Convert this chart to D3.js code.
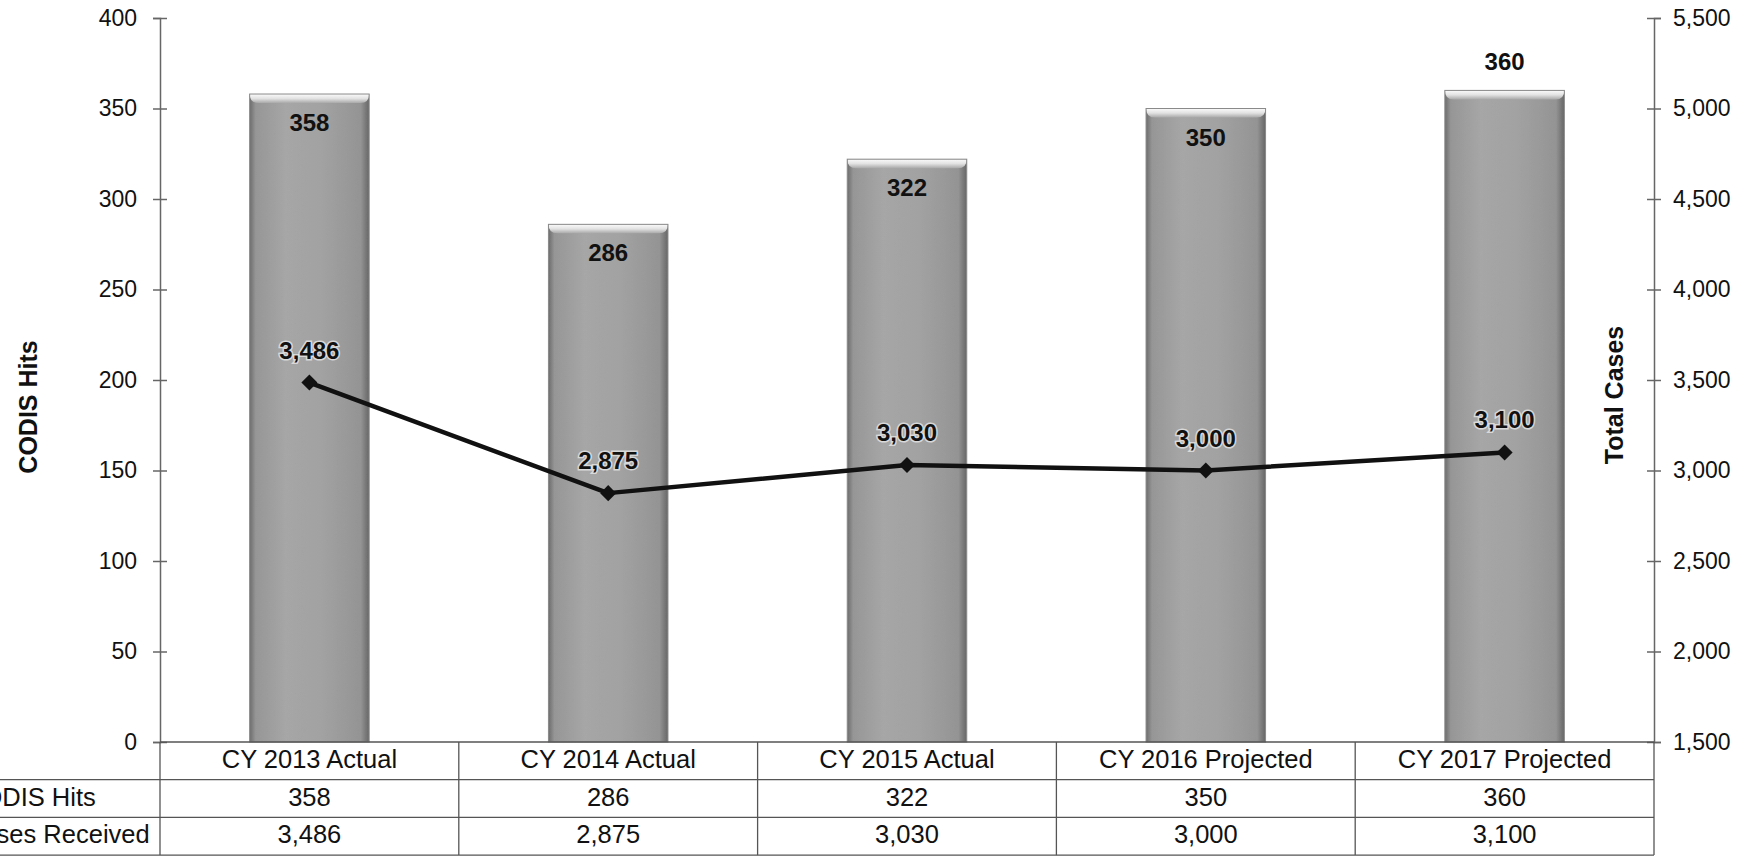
<!DOCTYPE html>
<html>
<head>
<meta charset="utf-8">
<script src="https://cdn.jsdelivr.net/npm/d3@7"></script>
<style>
  html, body { margin: 0; padding: 0; background: #fff; }
  svg { display: block; }
  text { font-family: "Liberation Sans", Arial, sans-serif; fill: #111; }
</style>
</head>
<body>
<svg id="chart" width="1759" height="856"></svg>
<script>
// ---- data ----
const categories = ["CY 2013 Actual", "CY 2014 Actual", "CY 2015 Actual", "CY 2016 Projected", "CY 2017 Projected"];
const codisHits = [358, 286, 322, 350, 360];
const casesReceived = [3486, 2875, 3030, 3000, 3100];
const leftTicks = [0, 50, 100, 150, 200, 250, 300, 350, 400];
const rightTicks = [1500, 2000, 2500, 3000, 3500, 4000, 4500, 5000, 5500];
const rowLabels = ["CODIS Hits", "Cases Received"];
const leftTitle = "CODIS Hits";
const rightTitle = "Total Cases";
// label placement for bar value labels (style)
const barLabelPlacement = ["inside", "inside", "inside", "inside", "outside"];

// ---- layout ----
const plotLeft = 160, plotRight = 1654, plotTop = 18, plotBottom = 742;
const rowH = 37.7;

const svg = d3.select("#chart");
const defs = svg.append("defs");

// bar gradients
const hg = defs.append("linearGradient").attr("id", "barH").attr("x1", 0).attr("x2", 1).attr("y1", 0).attr("y2", 0);
[[0, "#6c6c6c"], [0.05, "#969696"], [0.3, "#a6a6a6"], [0.6, "#a2a2a2"], [0.93, "#949494"], [1, "#666"]]
  .forEach(([o, c]) => hg.append("stop").attr("offset", o).attr("stop-color", c));
const vg = defs.append("linearGradient").attr("id", "bevel").attr("x1", 0).attr("x2", 0).attr("y1", 0).attr("y2", 1);
[[0, "#fbfbfb"], [0.5, "#e2e2e2"], [1, "#a9a9a9"]]
  .forEach(([o, c]) => vg.append("stop").attr("offset", o).attr("stop-color", c));

// texture filter
const f = defs.append("filter").attr("id", "grain").attr("x", 0).attr("y", 0).attr("width", 1).attr("height", 1);
f.append("feTurbulence").attr("type", "fractalNoise").attr("baseFrequency", 0.9).attr("numOctaves", 2).attr("seed", 3).attr("result", "noise");
f.append("feColorMatrix").attr("in", "noise").attr("type", "matrix")
  .attr("values", "0 0 0 0 0.5  0 0 0 0 0.5  0 0 0 0 0.5  0 0 0 0.35 0").attr("result", "n2");
f.append("feComposite").attr("in", "n2").attr("in2", "SourceGraphic").attr("operator", "in").attr("result", "n3");
f.append("feBlend").attr("in", "n3").attr("in2", "SourceGraphic").attr("mode", "overlay");

// ---- scales ----
const x = d3.scaleBand().domain(categories).range([plotLeft, plotRight]).paddingInner(0.6).paddingOuter(0.3);
const step = x.step();
const yL = d3.scaleLinear().domain([0, 400]).range([plotBottom, plotTop]);
const yR = d3.scaleLinear().domain([1500, 5500]).range([plotBottom, plotTop]);

// ---- bars ----
const bars = svg.append("g");
categories.forEach((c, i) => {
  const bx = x(c), bw = x.bandwidth(), by = yL(codisHits[i]), bh = yL(0) - by;
  const g = bars.append("g");
  g.append("rect").attr("x", bx).attr("y", by).attr("width", bw).attr("height", bh)
    .attr("fill", "url(#barH)").attr("filter", "url(#grain)");
  const bev = 9;
  g.append("path")
    .attr("d", `M${bx},${by} L${bx + bw},${by} Q${bx + bw},${by + bev} ${bx + bw - bev},${by + bev} L${bx + bev},${by + bev} Q${bx},${by + bev} ${bx},${by} Z`)
    .attr("fill", "url(#bevel)");
  g.append("rect").attr("x", bx).attr("y", by).attr("width", bw).attr("height", bh)
    .attr("fill", "none").attr("stroke", "#8a8a8a").attr("stroke-width", 1);
});

// bar value labels
svg.append("g").selectAll("text").data(codisHits).join("text")
  .attr("x", (d, i) => x(categories[i]) + x.bandwidth() / 2)
  .attr("y", (d, i) => barLabelPlacement[i] === "inside" ? yL(d) + 37 : yL(d) - 20)
  .attr("text-anchor", "middle")
  .style("font-size", "24px").style("font-weight", "bold")
  .text(d => d3.format(",")(d));

// ---- axes ----
const axL = svg.append("g").attr("transform", `translate(${plotLeft},0)`)
  .call(d3.axisLeft(yL).tickValues(leftTicks).tickSizeOuter(0).tickSize(7).tickPadding(16).tickFormat(d3.format(",")));
const axR = svg.append("g").attr("transform", `translate(${plotRight},0)`)
  .call(d3.axisRight(yR).tickValues(rightTicks).tickSizeOuter(0).tickSize(7).tickPadding(12).tickFormat(d3.format(",")));
[axL, axR].forEach(a => {
  a.select(".domain").attr("stroke", "#666").attr("stroke-width", 1.5);
  a.selectAll(".tick line").attr("stroke", "#666").attr("stroke-width", 1.5).attr("x1", -7).attr("x2", 7);
  a.selectAll(".tick text").style("font-size", "23px").style("font-family", "Liberation Sans, Arial, sans-serif").attr("fill", "#111");
});

// axis titles
svg.append("text").attr("transform", `translate(37,${407}) rotate(-90)`)
  .attr("text-anchor", "middle").style("font-size", "25px").style("font-weight", "bold").text(leftTitle);
svg.append("text").attr("transform", `translate(1623,${395}) rotate(-90)`)
  .attr("text-anchor", "middle").style("font-size", "25px").style("font-weight", "bold").text(rightTitle);

// ---- line ----
const pts = casesReceived.map((v, i) => [x(categories[i]) + x.bandwidth() / 2, yR(v)]);
svg.append("path").datum(pts).attr("d", d3.line()).attr("fill", "none")
  .attr("stroke", "#111").attr("stroke-width", 4.5).attr("stroke-linejoin", "round");
svg.append("g").selectAll("path").data(pts).join("path")
  .attr("d", d3.symbol(d3.symbolSquare, 128)())
  .attr("transform", d => `translate(${d[0]},${d[1]}) rotate(45)`)
  .attr("fill", "#111");
svg.append("g").selectAll("text").data(casesReceived).join("text")
  .attr("x", (d, i) => pts[i][0]).attr("y", (d, i) => pts[i][1] - 24)
  .attr("text-anchor", "middle")
  .style("font-size", "24px").style("font-weight", "bold")
  .style("paint-order", "stroke").attr("stroke", "rgba(235,235,235,0.75)").attr("stroke-width", 3)
  .text(d => d3.format(",")(d));

// ---- data table ----
const tbl = svg.append("g").attr("stroke", "#555").attr("stroke-width", 1.3);
const rowsY = [plotBottom, plotBottom + rowH, plotBottom + 2 * rowH, plotBottom + 3 * rowH];
rowsY.slice(1).forEach(yy => tbl.append("line").attr("x1", 0).attr("x2", plotRight).attr("y1", yy).attr("y2", yy));
tbl.append("line").attr("x1", plotLeft).attr("x2", plotRight).attr("y1", plotBottom).attr("y2", plotBottom).attr("stroke-width", 1.6);
const colEdges = categories.map(c => x(c) - step * 0.3).concat([plotRight]);
colEdges.forEach(xx => tbl.append("line").attr("x1", xx).attr("x2", xx).attr("y1", plotBottom).attr("y2", rowsY[3]));

const tt = svg.append("g").style("font-size", "25.5px");
categories.forEach((c, i) => {
  const cx = x(c) + x.bandwidth() / 2;
  tt.append("text").attr("x", cx).attr("y", rowsY[0] + 26).attr("text-anchor", "middle").text(c);
  tt.append("text").attr("x", cx).attr("y", rowsY[1] + 26).attr("text-anchor", "middle").text(d3.format(",")(codisHits[i]));
  tt.append("text").attr("x", cx).attr("y", rowsY[2] + 26).attr("text-anchor", "middle").text(d3.format(",")(casesReceived[i]));
});
rowLabels.forEach((l, j) => {
  tt.append("text").attr("x", -36).attr("y", rowsY[j + 1] + 26).attr("text-anchor", "start").text(l);
});
</script>
</body>
</html>
